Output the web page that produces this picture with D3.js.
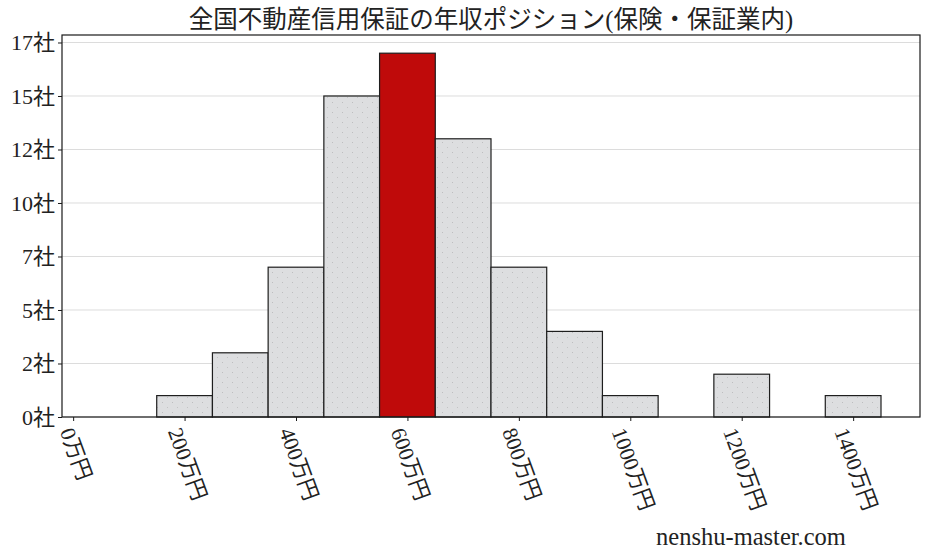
<!DOCTYPE html>
<html>
<head>
<meta charset="utf-8">
<script src="https://cdn.jsdelivr.net/npm/d3@7"></script>
<style>
  html, body { margin: 0; padding: 0; background: #fff; }
  svg { display: block; }
  text { font-family: "Liberation Serif", "Noto Sans CJK JP", serif; fill: #222; }
</style>
</head>
<body>
<svg id="chart" width="928" height="557"></svg>
<script>
// ---- data ----
const title = "全国不動産信用保証の年収ポジション(保険・保証業内)";
const binStarts = [150, 250, 350, 450, 550, 650, 750, 850, 950, 1050, 1150, 1250, 1350];
const binWidth = 100;
const counts = [1, 3, 7, 15, 17, 13, 7, 4, 1, 0, 2, 0, 1];
const highlightBin = 550;
const xTicks = [0, 200, 400, 600, 800, 1000, 1200, 1400];
const xTickLabels = ["0万円", "200万円", "400万円", "600万円", "800万円", "1000万円", "1200万円", "1400万円"];
const yTicks = [0, 2.5, 5, 7.5, 10, 12.5, 15, 17.5];
const yTickLabels = ["0社", "2社", "5社", "7社", "10社", "12社", "15社", "17社"];
const watermark = "nenshu-master.com";

// ---- layout ----
const W = 928, H = 557;
const mLeft = 62, mRight = 920, mTop = 35, mBottom = 417;

const svg = d3.select("#chart");

const x = d3.scaleLinear().domain([-20, 1520]).range([mLeft, mRight]);
const y = d3.scaleLinear().domain([0, d3.max(counts) * 1.05]).range([mBottom, mTop]);

// dot pattern
const defs = svg.append("defs");
const pat = defs.append("pattern").attr("id", "dots").attr("patternUnits", "userSpaceOnUse")
  .attr("width", 10).attr("height", 10);
pat.append("rect").attr("width", 10).attr("height", 10).attr("fill", "#dddee0");
pat.append("rect").attr("x", 2).attr("y", 2).attr("width", 1).attr("height", 1).attr("fill", "#bdbdbf");
pat.append("rect").attr("x", 7).attr("y", 7).attr("width", 1).attr("height", 1).attr("fill", "#c3c3c5");

// gridlines
svg.append("g").selectAll("line").data(yTicks).join("line")
  .attr("x1", mLeft).attr("x2", mRight)
  .attr("y1", d => y(d)).attr("y2", d => y(d))
  .attr("stroke", "#dcdcdc").attr("stroke-width", 1);

// bars
const bars = binStarts.map((s, i) => ({ s, c: counts[i] }));
svg.append("g").selectAll("rect").data(bars.filter(d => d.c > 0)).join("rect")
  .attr("x", d => x(d.s))
  .attr("width", d => x(d.s + binWidth) - x(d.s))
  .attr("y", d => y(d.c))
  .attr("height", d => y(0) - y(d.c))
  .attr("fill", d => d.s === highlightBin ? "#bf0a0a" : "url(#dots)")
  .attr("stroke", "#1e1e1e").attr("stroke-width", 1.2);

// frame
svg.append("rect").attr("x", mLeft).attr("y", mTop)
  .attr("width", mRight - mLeft).attr("height", mBottom - mTop)
  .attr("fill", "none").attr("stroke", "#1a1a1a").attr("stroke-width", 1.2);

// y axis
const yAxis = d3.axisLeft(y).tickValues(yTicks).tickSize(4).tickPadding(3)
  .tickFormat((d, i) => yTickLabels[i]);
const gy = svg.append("g").attr("transform", `translate(${mLeft},0)`).call(yAxis);
gy.select(".domain").remove();
gy.selectAll("line").attr("stroke", "#1a1a1a");
gy.selectAll("text").attr("font-size", 22)
  .style("font-family", '"Liberation Serif", "Noto Sans CJK JP", serif').attr("fill", "#222");

// x axis
const xAxis = d3.axisBottom(x).tickValues(xTicks).tickSize(4).tickFormat("");
const gx = svg.append("g").attr("transform", `translate(0,${mBottom})`).call(xAxis);
gx.select(".domain").remove();
gx.selectAll("line").attr("stroke", "#1a1a1a");

const ang = 70 * Math.PI / 180;
const fsX = 21.5;
const xl = svg.append("g").selectAll("text").data(xTicks).join("text")
  .attr("font-size", fsX)
  .attr("text-anchor", "middle")
  .attr("dy", "0.35em")
  .text((d, i) => xTickLabels[i]);
xl.each(function(d) {
  const L = this.getComputedTextLength();
  const bh = L * Math.sin(ang) + fsX * Math.cos(ang);
  d3.select(this).attr("transform", `translate(${x(d) + 3},${mBottom + 8 + bh / 2}) rotate(70)`);
});

// title
svg.append("text").attr("x", (mLeft + mRight) / 2).attr("y", 28)
  .attr("text-anchor", "middle").attr("font-size", 24.5).text(title);

// watermark
svg.append("text").attr("x", 751).attr("y", 545)
  .attr("text-anchor", "middle").attr("font-size", 24.5).text(watermark);
</script>
</body>
</html>
